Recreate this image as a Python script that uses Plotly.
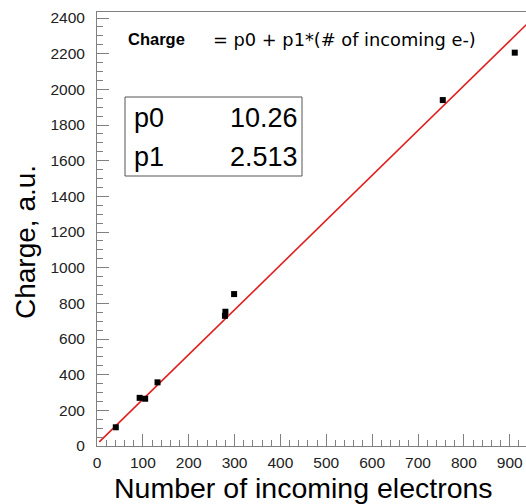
import plotly.graph_objects as go

# Data points
n_electrons = [41, 93, 105, 132, 279, 280, 299, 754, 911]
charge = [105, 270, 265, 357, 730, 753, 852, 1940, 2206]

# Fit parameters
p0 = 10.26
p1 = 2.513
fit_x = [5, 936]
fit_y = [p0 + p1 * v for v in fit_x]

x_range = [0, 935.5]
y_range = [0, 2434]
x_ticks = list(range(0, 1000, 100))
y_ticks = list(range(0, 2600, 200))

L, T, R, B = 97, 12, 0, 58
W, H = 526, 504
pw, ph = W - L - R, H - T - B

def px(x):
    return (x - L) / pw

def py(y):
    return (H - B - y) / ph

fig = go.Figure()
fig.add_trace(go.Scatter(x=fit_x, y=fit_y, mode="lines",
                         line=dict(color="#e02020", width=1.6),
                         showlegend=False, cliponaxis=True))
fig.add_trace(go.Scatter(x=n_electrons, y=charge, mode="markers",
                         marker=dict(symbol="square", size=6, color="black"),
                         showlegend=False))

axis_col = "#808080"
fig.update_xaxes(range=x_range, tickvals=x_ticks, ticks="inside", ticklen=12,
                 tickcolor=axis_col, showline=True, linecolor=axis_col, linewidth=1,
                 mirror=True, showgrid=False, zeroline=False, ticklabelstandoff=2,
                 tickfont=dict(family="Liberation Sans", size=15.5, color="#222"),
                 minor=dict(ticks="inside", ticklen=6, dtick=20, tickcolor=axis_col,
                            showgrid=False))
fig.update_yaxes(range=y_range, tickvals=y_ticks, ticks="inside", ticklen=12,
                 tickcolor=axis_col, showline=True, linecolor=axis_col, linewidth=1,
                 mirror=False, showgrid=False, zeroline=False, ticklabelstandoff=8,
                 tickfont=dict(family="Liberation Sans", size=15.5, color="#222"),
                 minor=dict(ticks="inside", ticklen=6, dtick=50, tickcolor=axis_col,
                            showgrid=False))

ann = []
ann.append(dict(text="Number of incoming electrons", x=px(303), y=py(488),
                xref="paper", yref="paper", xanchor="center", yanchor="middle",
                showarrow=False, font=dict(family="Liberation Sans", size=28.5, color="black")))
ann.append(dict(text="Charge, a.u.", x=px(25), y=py(242), textangle=-90,
                xref="paper", yref="paper", xanchor="center", yanchor="middle",
                showarrow=False, font=dict(family="Liberation Sans", size=28, color="black")))
ann.append(dict(text="<b>Charge</b>", x=px(126), y=py(39),
                xref="paper", yref="paper", xanchor="left", yanchor="middle",
                showarrow=False, font=dict(family="Liberation Sans", size=16.5, color="black")))
ann.append(dict(text="= p0 + p1*(# of incoming e-)", x=px(211), y=py(39),
                xref="paper", yref="paper", xanchor="left", yanchor="middle",
                showarrow=False, font=dict(family="DejaVu Sans", size=17.8, color="black")))
ann.append(dict(text="p0", x=px(132), y=py(118), xref="paper", yref="paper",
                xanchor="left", yanchor="middle", showarrow=False,
                font=dict(family="Liberation Sans", size=27, color="black")))
ann.append(dict(text=f"{p0:.2f}", x=px(300), y=py(118), xref="paper", yref="paper",
                xanchor="right", yanchor="middle", showarrow=False,
                font=dict(family="Liberation Sans", size=27, color="black")))
ann.append(dict(text="p1", x=px(132), y=py(157), xref="paper", yref="paper",
                xanchor="left", yanchor="middle", showarrow=False,
                font=dict(family="Liberation Sans", size=27, color="black")))
ann.append(dict(text=f"{p1:.3f}", x=px(300), y=py(157), xref="paper", yref="paper",
                xanchor="right", yanchor="middle", showarrow=False,
                font=dict(family="Liberation Sans", size=27, color="black")))

fig.add_shape(type="rect", xref="paper", yref="paper",
              x0=px(125), x1=px(302), y0=py(176), y1=py(97),
              line=dict(color="#555", width=1), fillcolor="white", layer="above")

fig.update_layout(width=W, height=H, margin=dict(l=L, r=R, t=T, b=B),
                  plot_bgcolor="white", paper_bgcolor="white",
                  annotations=ann, showlegend=False)

fig.write_html("out.html")
